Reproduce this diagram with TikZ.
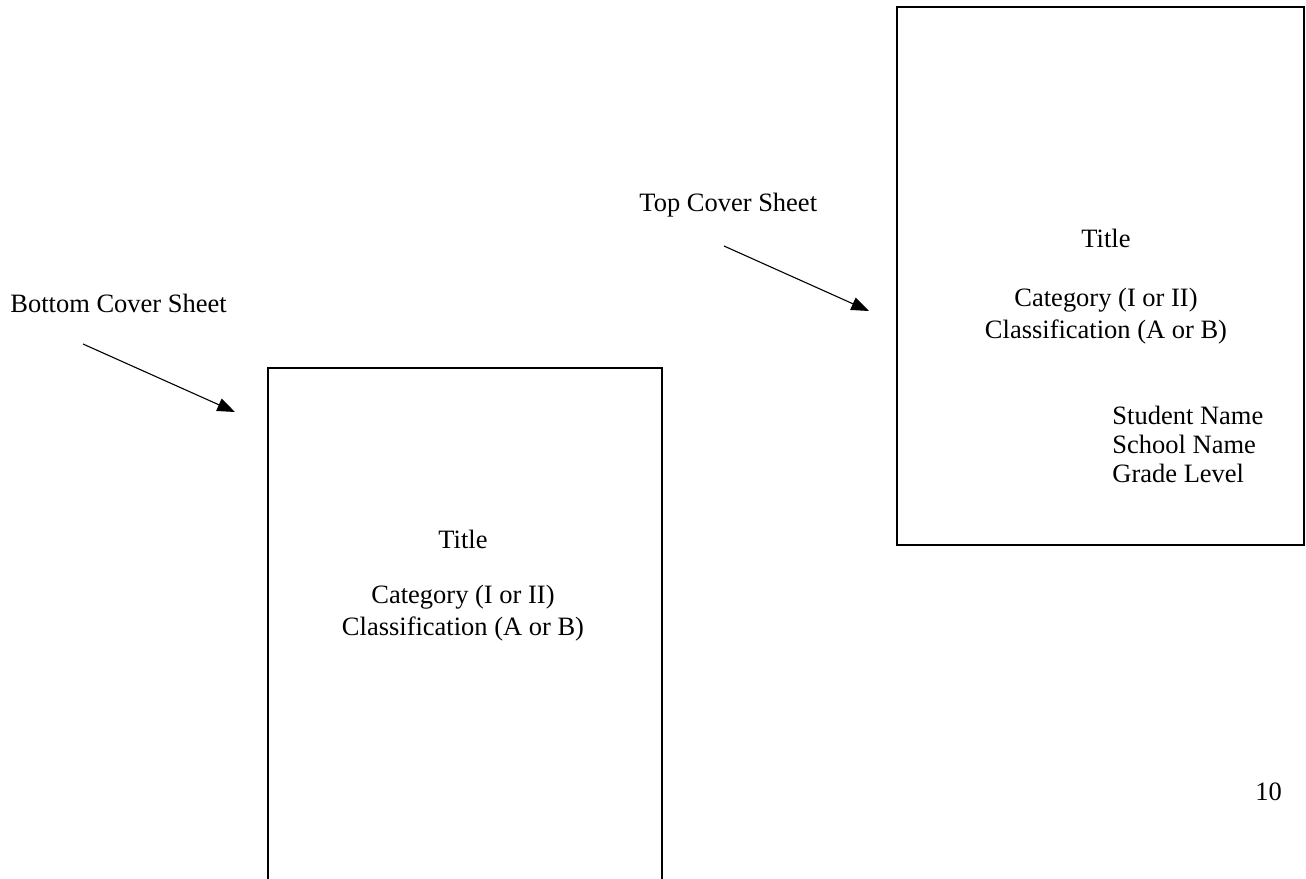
\documentclass[tikz,border=0pt]{standalone}
\usepackage{fontspec}
\setmainfont{Liberation Serif}
\usetikzlibrary{arrows.meta}
\begin{document}
\begin{tikzpicture}[x=0.453pt,y=-0.453pt,
  sheet/.style={draw,line width=1.1pt,inner sep=0pt,outer sep=0pt,anchor=north west},
  lbl/.style={inner sep=0pt,font=\fontsize{12pt}{14pt}\selectfont},
  pointer/.style={line width=0.5pt,-{Triangle[length=8pt,width=6pt]}}]
\useasboundingbox (0,0) rectangle (1306,879);
% sheets
\node[sheet,minimum width=184.4pt,minimum height=243.7pt] (topsheet) at (897,7) {};
\node[sheet,minimum width=178.5pt,minimum height=250pt] (botsheet) at (268,368) {};
% labels
\node[lbl,anchor=base west] (botlbl) at (10,312) {Bottom Cover Sheet};
\node[lbl,anchor=base west] (toplbl) at (639,212) {Top Cover Sheet};
% bottom sheet text
\node[lbl,anchor=base] (btitle) at (463,548) {Title};
\node[lbl,anchor=base] (bcat) at (463,603) {Category (I or II)};
\node[lbl,anchor=base] (bclass) at (463,635) {Classification (A or B)};
% top sheet text
\node[lbl,anchor=base] (ttitle) at (1106,248) {Title};
\node[lbl,anchor=base] (tcat) at (1106,306) {Category (I or II)};
\node[lbl,anchor=base] (tclass) at (1106,338) {Classification (A or B)};
\node[lbl,anchor=base west] (student) at (1112,424) {Student Name};
\node[lbl,anchor=base west] (school) at (1112,453) {School Name};
\node[lbl,anchor=base west] (grade) at (1112,482) {Grade Level};
% page number
\node[lbl,anchor=base west] (pagenum) at (1255,800) {10};
% arrows
\coordinate (a1s) at (83,344);
\coordinate (a1e) at (235,412);
\coordinate (a2s) at (724,246);
\coordinate (a2e) at (869,311);
\draw[pointer] (a1s) -- (a1e);
\draw[pointer] (a2s) -- (a2e);
\end{tikzpicture}
\end{document}
